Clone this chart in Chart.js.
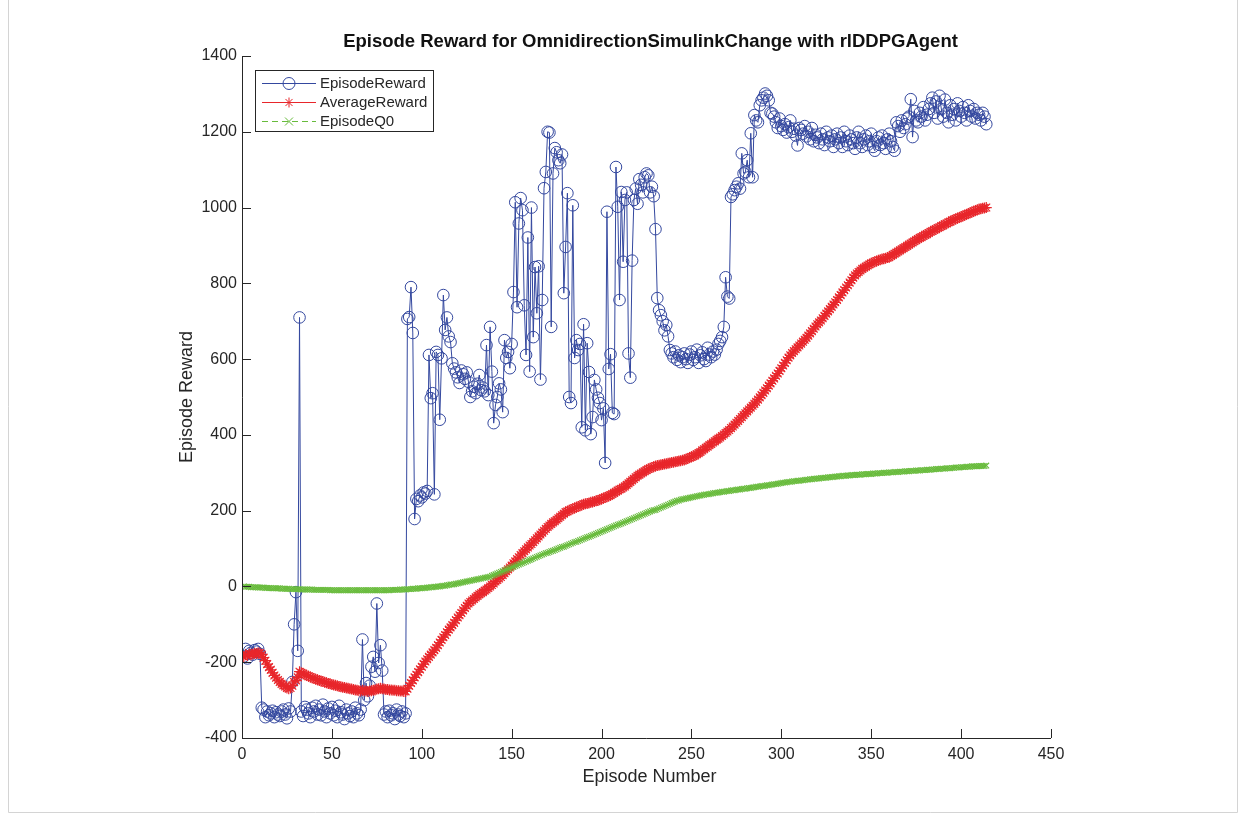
<!DOCTYPE html>
<html>
<head>
<meta charset="utf-8">
<title>Episode Reward</title>
<script src="https://cdn.jsdelivr.net/npm/chart.js@4.4.1/dist/chart.umd.min.js"></script>
<style>
  html, body { margin: 0; padding: 0; background: #ffffff; }
  #wrap { width: 1244px; height: 816px; }
</style>
</head>
<body>
<div id="wrap"><canvas id="c" width="1244" height="816"></canvas></div>
<script>
// Per-episode training results
const episodeReward = [
  -185, -165, -190, -170, -175, -180, -168, -172, -165, -178,
  -320, -325, -345, -330, -340, -335, -328, -345, -332, -338,
  -342, -330, -325, -338, -348, -322, -330, -252, -100, -15,
  -170, 710, -330, -342, -318, -325, -335, -345, -320, -330,
  -315, -338, -325, -340, -312, -330, -345, -322, -335, -318,
  -340, -328, -345, -315, -332, -338, -350, -325, -335, -342,
  -330, -345, -320, -335, -340, -325, -140, -300, -255, -290,
  -262, -212, -186, -225, -45, -202, -155, -222, -338, -330,
  -345, -328, -340, -335, -350, -325, -338, -342, -330, -345,
  -335, 706, 711, 790, 669, 178, 231, 225, 240, 235,
  248, 245, 252, 611, 497, 510, 243, 619, 611, 440,
  602, 769, 677, 710, 660, 645, 589, 575, 565, 552,
  537, 570, 560, 548, 565, 540, 500, 515, 527, 510,
  535, 558, 518, 525, 515, 637, 505, 685, 567, 431,
  479, 500, 536, 520, 460, 650, 603, 619, 576, 640,
  777, 1014, 737, 958, 1025, 993, 742, 611, 921, 567,
  1000, 658, 843, 721, 845, 546, 756, 1051, 1094, 1200,
  1198, 685, 1090, 1157, 1146, 1125, 1117, 1140, 774, 896,
  1038, 500, 484, 1006, 603, 650, 624, 640, 420, 692,
  412, 642, 566, 402, 447, 545, 520, 498, 484, 439,
  470, 326, 989, 574, 613, 458, 455, 1107, 1002, 756,
  1041, 857, 1020, 1040, 615, 551, 860, 1020, 1050, 1010,
  1075, 1060, 1040, 1080, 1090, 1085, 1040, 1055, 1030, 943,
  761, 729, 716, 700, 676, 690, 660, 624, 615, 605,
  620, 598, 610, 592, 605, 615, 600, 590, 612, 620,
  598, 605, 625, 590, 610, 618, 600, 595, 630, 612,
  605, 620, 612, 625, 640, 648, 658, 685, 816, 765,
  760, 1028, 1035, 1046, 1055, 1064, 1050, 1143, 1090, 1094,
  1125, 1080, 1196, 1080, 1244, 1230, 1225, 1270, 1283, 1290,
  1301, 1295, 1283, 1250, 1248, 1240, 1225, 1210, 1235, 1215,
  1205, 1220, 1198, 1212, 1230, 1200, 1208, 1190, 1164, 1210,
  1205, 1195, 1215, 1188, 1200, 1180, 1210, 1175, 1192, 1185,
  1170, 1195, 1180, 1165, 1200, 1185, 1175, 1190, 1160, 1180,
  1195, 1170, 1185, 1160, 1200, 1175, 1165, 1190, 1180, 1170,
  1155, 1185, 1200, 1170, 1160, 1180, 1190, 1165, 1175, 1195,
  1160, 1150, 1175, 1185, 1165, 1190, 1170, 1155, 1180, 1195,
  1175, 1160, 1150, 1225, 1215, 1200, 1230, 1210, 1220, 1235,
  1240, 1286, 1186, 1255, 1230, 1225, 1250, 1240, 1265, 1230,
  1245, 1260, 1275, 1290, 1250, 1280, 1235, 1295, 1260, 1240,
  1285, 1250, 1225, 1270, 1245, 1260, 1230, 1275, 1255, 1240,
  1265, 1250, 1230, 1270, 1255, 1240, 1260, 1235, 1250, 1245,
  1230, 1250, 1240, 1220
];

const averageReward = [
  -185, -180, -182, -178, -180, -178, -176, -177, -175, -176,
  -180, -188, -196, -205, -213, -220, -228, -235, -241, -247,
  -252, -257, -261, -264, -268, -270, -268, -262, -252, -248,
  -240, -225, -228, -230, -233, -235, -237, -239, -241, -243,
  -245, -246, -248, -250, -251, -253, -254, -256, -257, -259,
  -260, -261, -262, -264, -265, -266, -267, -268, -269, -270,
  -271, -272, -273, -274, -275, -276, -274, -275, -276, -277,
  -276, -275, -274, -273, -271, -270, -269, -270, -271, -272,
  -272, -273, -273, -274, -274, -275, -275, -276, -276, -277,
  -277, -270, -262, -255, -248, -240, -233, -226, -219, -212,
  -205, -198, -192, -186, -180, -174, -168, -162, -155, -148,
  -141, -134, -128, -121, -114, -108, -102, -96, -89, -82,
  -76, -70, -63, -57, -51, -45, -41, -37, -33, -29,
  -25, -21, -18, -15, -11, -8, -4, 0, 4, 8,
  13, 17, 21, 25, 30, 35, 40, 45, 50, 55,
  61, 66, 72, 77, 83, 88, 93, 98, 103, 108,
  112, 117, 122, 127, 132, 137, 142, 147, 152, 157,
  161, 165, 169, 172, 176, 180, 184, 188, 192, 196,
  198, 201, 203, 205, 207, 209, 211, 213, 215, 217,
  218, 219, 220, 222, 223, 224, 226, 227, 229, 231,
  233, 235, 237, 239, 241, 244, 247, 250, 253, 256,
  258, 261, 264, 268, 272, 276, 280, 284, 288, 292,
  295, 298, 301, 304, 307, 310, 312, 314, 316, 318,
  319, 320, 321, 322, 323, 324, 325, 326, 327, 328,
  329, 330, 331, 332, 333, 334, 336, 338, 340, 342,
  344, 346, 349, 352, 355, 359, 362, 366, 369, 373,
  376, 380, 383, 387, 390, 393, 397, 401, 405, 409,
  413, 418, 422, 427, 432, 437, 442, 447, 452, 457,
  462, 467, 472, 477, 482, 487, 493, 499, 505, 511,
  517, 523, 530, 536, 543, 549, 556, 562, 569, 576,
  583, 590, 597, 604, 610, 616, 621, 626, 631, 636,
  641, 646, 651, 656, 662, 668, 674, 680, 686, 692,
  697, 702, 708, 714, 720, 726, 732, 738, 744, 750,
  756, 763, 769, 776, 782, 789, 795, 802, 808, 815,
  821, 826, 830, 834, 838, 841, 844, 847, 850, 853,
  855, 857, 859, 861, 862, 864, 865, 866, 868, 869,
  872, 875, 878, 881, 884, 887, 890, 893, 896, 899,
  902, 905, 908, 911, 914, 917, 920, 922, 925, 928,
  930, 933, 936, 938, 941, 943, 946, 948, 951, 953,
  956, 958, 961, 963, 966, 968, 970, 972, 974, 976,
  978, 980, 982, 984, 986, 988, 990, 992, 994, 996,
  997, 998, 999, 1000
];

const episodeQ0 = [
  0, -1, -1, -1, -2, -2, -2, -2, -3, -3,
  -3, -3, -4, -4, -4, -4, -5, -5, -5, -5,
  -5, -6, -6, -6, -6, -6, -7, -7, -7, -7,
  -7, -7, -8, -8, -8, -8, -8, -8, -8, -9,
  -9, -9, -9, -9, -9, -9, -9, -9, -10, -10,
  -10, -10, -10, -10, -10, -10, -10, -10, -10, -10,
  -10, -10, -10, -10, -10, -10, -10, -10, -10, -10,
  -10, -10, -10, -10, -10, -10, -10, -10, -10, -10,
  -10, -10, -9, -9, -9, -9, -9, -8, -8, -8,
  -8, -7, -7, -7, -6, -6, -6, -5, -5, -5,
  -4, -4, -3, -3, -2, -2, -1, -1, 0, 0,
  1, 2, 2, 3, 4, 5, 5, 6, 7, 8,
  9, 10, 11, 12, 13, 14, 15, 16, 17, 18,
  19, 20, 21, 22, 23, 24, 25, 26, 28, 30,
  32, 34, 36, 38, 40, 42, 44, 46, 48, 50,
  52, 54, 56, 58, 60, 62, 64, 66, 68, 70,
  72, 74, 76, 78, 80, 82, 84, 86, 88, 89,
  91, 93, 94, 96, 98, 100, 102, 104, 105, 107,
  109, 111, 113, 115, 117, 118, 120, 122, 124, 126,
  128, 130, 131, 133, 135, 137, 139, 141, 143, 145,
  147, 149, 151, 153, 155, 157, 159, 161, 163, 164,
  166, 168, 170, 172, 174, 176, 178, 180, 182, 184,
  186, 188, 190, 192, 194, 196, 198, 200, 201, 202,
  204, 206, 208, 210, 212, 214, 216, 218, 220, 222,
  224, 226, 227, 229, 230, 231, 232, 233, 234, 235,
  236, 237, 238, 239, 240, 241, 242, 243, 243, 244,
  245, 246, 247, 247, 248, 249, 250, 250, 251, 252,
  252, 253, 254, 254, 255, 256, 256, 257, 258, 258,
  259, 260, 260, 261, 262, 263, 263, 264, 265, 265,
  266, 267, 267, 268, 269, 270, 270, 271, 272, 273,
  274, 274, 275, 276, 276, 277, 278, 278, 279, 279,
  280, 280, 281, 282, 282, 283, 283, 284, 284, 285,
  285, 286, 286, 287, 287, 288, 288, 289, 289, 290,
  290, 291, 291, 292, 292, 292, 293, 293, 294, 294,
  294, 295, 295, 295, 296, 296, 296, 297, 297, 297,
  298, 298, 298, 299, 299, 299, 300, 300, 300, 301,
  301, 301, 302, 302, 302, 303, 303, 303, 304, 304,
  304, 305, 305, 305, 306, 306, 306, 307, 307, 307,
  308, 308, 308, 309, 309, 310, 310, 310, 311, 311,
  311, 312, 312, 312, 313, 313, 314, 314, 314, 315,
  315, 315, 316, 316, 316, 317, 317, 317, 317, 318,
  318, 318, 318, 319
];

// Episode numbers (1-based) and axis tick values
const episodes = episodeReward.map((_, i) => i + 1);
const xTicks = [0, 50, 100, 150, 200, 250, 300, 350, 400, 450];
const yTicks = [-400, -200, 0, 200, 400, 600, 800, 1000, 1200, 1400];

const seriesNames = ['EpisodeReward', 'AverageReward', 'EpisodeQ0'];
const chartTitle = 'Episode Reward for OmnidirectionSimulinkChange with rlDDPGAgent';
const xTitle = 'Episode Number';
const yTitle = 'Episode Reward';

const FONT = '"Liberation Sans", Arial, Helvetica, sans-serif';
const AXIS_COLOR = '#262626';
const BLUE = '#34489f';
const RED = '#e8262b';
const GREEN = '#68bb3c';

const toXY = (vals) => vals.map((v, i) => ({ x: episodes[i], y: v }));

// Small marker painters used by the legend
function drawCircleMarker(ctx, x, y, r, color) {
  ctx.save();
  ctx.strokeStyle = color; ctx.lineWidth = 1;
  ctx.beginPath(); ctx.arc(x, y, r, 0, Math.PI * 2); ctx.stroke();
  ctx.restore();
}
function drawStarMarker(ctx, x, y, r, color) {
  ctx.save();
  ctx.strokeStyle = color; ctx.lineWidth = 1;
  ctx.beginPath();
  for (let k = 0; k < 4; k++) {
    const a = k * Math.PI / 4;
    ctx.moveTo(x - r * Math.cos(a), y - r * Math.sin(a));
    ctx.lineTo(x + r * Math.cos(a), y + r * Math.sin(a));
  }
  ctx.stroke();
  ctx.restore();
}
function drawXMarker(ctx, x, y, r, color) {
  ctx.save();
  ctx.strokeStyle = color; ctx.lineWidth = 1;
  ctx.beginPath();
  ctx.moveTo(x - r, y - r); ctx.lineTo(x + r, y + r);
  ctx.moveTo(x - r, y + r); ctx.lineTo(x + r, y - r);
  ctx.stroke();
  ctx.restore();
}

// Figure background, frame, axis lines with inward ticks, titles and legend
const figureDecor = {
  id: 'figureDecor',
  beforeDraw(chart) {
    const ctx = chart.ctx;
    ctx.save();
    ctx.fillStyle = '#ffffff';
    ctx.fillRect(0, 0, chart.width, chart.height);
    ctx.strokeStyle = '#d4d4d4';
    ctx.lineWidth = 1;
    ctx.beginPath();
    ctx.moveTo(8.5, 0); ctx.lineTo(8.5, 812.5); ctx.lineTo(1237.5, 812.5); ctx.lineTo(1237.5, 0);
    ctx.stroke();
    ctx.restore();
  },
  afterDraw(chart) {
    const ctx = chart.ctx;
    const area = chart.chartArea;
    const xs = chart.scales.x, ys = chart.scales.y;
    ctx.save();

    // axis lines
    ctx.strokeStyle = AXIS_COLOR;
    ctx.lineWidth = 1;
    ctx.beginPath();
    ctx.moveTo(Math.round(area.left) + 0.5, area.top);
    ctx.lineTo(Math.round(area.left) + 0.5, Math.round(area.bottom) + 0.5);
    ctx.lineTo(area.right, Math.round(area.bottom) + 0.5);
    ctx.stroke();

    // inward tick marks
    const tickLen = 9;
    ctx.beginPath();
    yTicks.forEach(v => {
      const py = Math.round(ys.getPixelForValue(v)) + 0.5;
      ctx.moveTo(area.left, py); ctx.lineTo(area.left + tickLen, py);
    });
    xTicks.forEach(v => {
      const px = Math.round(xs.getPixelForValue(v)) + 0.5;
      ctx.moveTo(px, area.bottom); ctx.lineTo(px, area.bottom - tickLen);
    });
    ctx.stroke();

    // titles
    const cx = (area.left + area.right) / 2;
    ctx.fillStyle = '#111111';
    ctx.textAlign = 'center';
    ctx.textBaseline = 'middle';
    ctx.font = 'bold 18.5px ' + FONT;
    ctx.fillText(chartTitle, cx + 4, 42);

    ctx.fillStyle = AXIS_COLOR;
    ctx.font = '18px ' + FONT;
    ctx.fillText(xTitle, cx + 3, 777);
    ctx.save();
    ctx.translate(187, (area.top + area.bottom) / 2);
    ctx.rotate(-Math.PI / 2);
    ctx.fillText(yTitle, 0, 0);
    ctx.restore();

    // legend
    const lx = 255.5, ly = 70.5, lw = 178, lh = 61;
    ctx.fillStyle = '#ffffff';
    ctx.fillRect(lx, ly, lw, lh);
    ctx.strokeStyle = AXIS_COLOR;
    ctx.lineWidth = 1;
    ctx.strokeRect(lx, ly, lw, lh);
    const rows = [83, 102, 121];
    const colors = [BLUE, RED, GREEN];
    ctx.font = '15px ' + FONT;
    ctx.textAlign = 'left';
    rows.forEach((ry, k) => {
      ctx.save();
      ctx.strokeStyle = colors[k];
      ctx.lineWidth = 1;
      if (k === 2) ctx.setLineDash([6, 4]);
      ctx.beginPath();
      ctx.moveTo(262, ry + 0.5); ctx.lineTo(316, ry + 0.5);
      ctx.stroke();
      ctx.restore();
      if (k === 0) drawCircleMarker(ctx, 289, ry + 0.5, 6, BLUE);
      if (k === 1) drawStarMarker(ctx, 289, ry + 0.5, 5, RED);
      if (k === 2) drawXMarker(ctx, 289, ry + 0.5, 4, GREEN);
      ctx.fillStyle = AXIS_COLOR;
      ctx.fillText(seriesNames[k], 320, ry + 1);
    });
    ctx.restore();
  }
};

new Chart(document.getElementById('c'), {
  type: 'line',
  data: {
    datasets: [
      {
        label: seriesNames[0],
        data: toXY(episodeReward),
        borderColor: BLUE,
        borderWidth: 1,
        pointStyle: 'circle',
        pointRadius: 5.8,
        pointBorderWidth: 1,
        pointBorderColor: BLUE,
        pointBackgroundColor: 'rgba(0,0,0,0)',
        tension: 0,
        order: 3
      },
      {
        label: seriesNames[1],
        data: toXY(averageReward),
        borderColor: RED,
        borderWidth: 1,
        pointStyle: 'star',
        pointRadius: 5.5,
        pointBorderWidth: 1.2,
        pointBorderColor: RED,
        pointBackgroundColor: RED,
        tension: 0,
        order: 2
      },
      {
        label: seriesNames[2],
        data: toXY(episodeQ0),
        borderColor: GREEN,
        borderWidth: 1,
        borderDash: [6, 4],
        pointStyle: 'crossRot',
        pointRadius: 4,
        pointBorderWidth: 1.1,
        pointBorderColor: GREEN,
        pointBackgroundColor: GREEN,
        tension: 0,
        order: 1
      }
    ]
  },
  options: {
    responsive: false,
    animation: false,
    events: [],
    layout: { padding: { left: 0, right: 193, top: 56, bottom: 0 } },
    plugins: {
      legend: { display: false },
      tooltip: { enabled: false },
      title: { display: false }
    },
    scales: {
      x: {
        type: 'linear',
        min: 0,
        max: 450,
        afterBuildTicks: (s) => { s.ticks = xTicks.map(v => ({ value: v })); },
        afterFit: (s) => { s.height = 78; },
        grid: { display: false, drawTicks: false },
        border: { display: false },
        ticks: {
          font: { family: FONT, size: 16 },
          color: AXIS_COLOR,
          padding: 7,
          maxRotation: 0,
          autoSkip: false,
          callback: (v) => String(v)
        }
      },
      y: {
        type: 'linear',
        min: -400,
        max: 1400,
        afterBuildTicks: (s) => { s.ticks = yTicks.map(v => ({ value: v })); },
        afterFit: (s) => { s.width = 242; },
        grid: { display: false, drawTicks: false },
        border: { display: false },
        ticks: {
          font: { family: FONT, size: 16 },
          color: AXIS_COLOR,
          padding: 5,
          autoSkip: false,
          callback: (v) => String(v)
        }
      }
    }
  },
  plugins: [figureDecor]
});
</script>
</body>
</html>
